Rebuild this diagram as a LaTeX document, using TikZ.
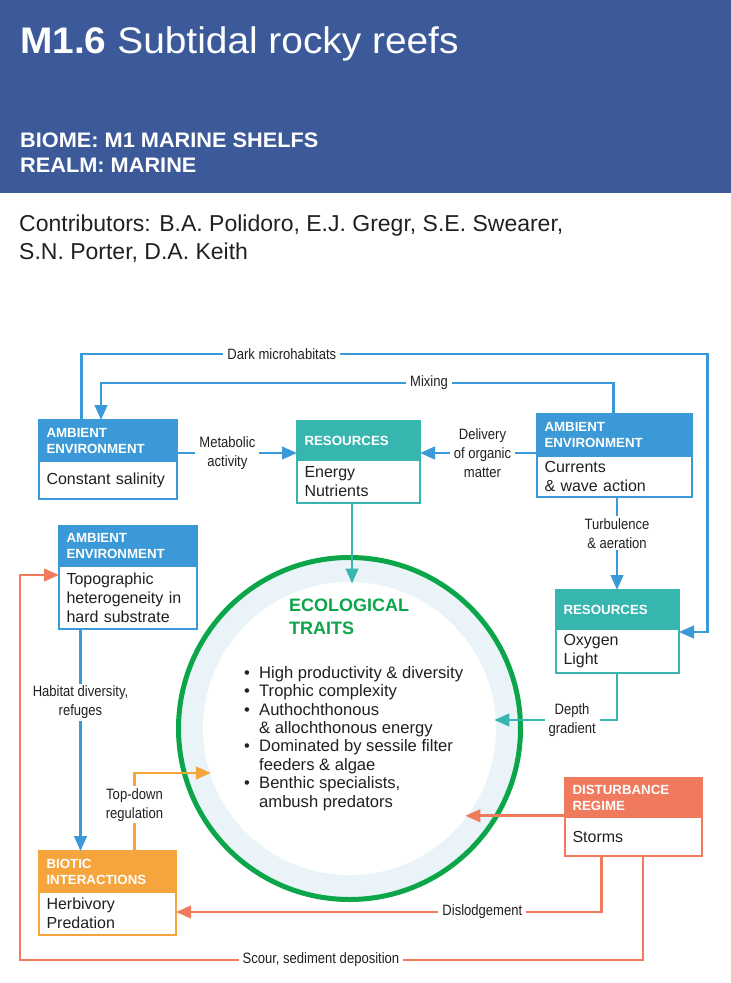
\documentclass[tikz,border=0pt]{standalone}
\usepackage{fontspec}
\setmainfont{Liberation Sans}
\newfontfamily\cond[FakeStretch=0.87]{Liberation Sans}
\newfontfamily\widef[FakeStretch=1.05]{Liberation Sans}
\newfontfamily\bwidef[FakeStretch=1.035]{Liberation Sans}
\usetikzlibrary{arrows.meta,calc}
\definecolor{hdrblue}{RGB}{60,90,153}
\definecolor{amb}{RGB}{58,153,214}
\definecolor{tealc}{RGB}{55,182,176}
\definecolor{salm}{RGB}{240,122,94}
\definecolor{orng}{RGB}{245,165,60}
\definecolor{grn}{RGB}{11,166,74}
\definecolor{ringc}{RGB}{234,244,248}
\definecolor{txt}{RGB}{35,31,32}
\tikzset{
  hdr/.style={fill=#1, draw=#1, line width=2pt, text=white, font=\bfseries\fontsize{13.3}{16}\selectfont,
    align=left, anchor=north west, inner xsep=7.5pt, inner ysep=0pt, outer sep=0pt},
  bdy/.style={fill=white, draw=#1, line width=2pt, text=txt, font=\fontsize{16}{19}\selectfont,
    align=left, anchor=north west, inner xsep=7.5pt, inner ysep=0pt, outer sep=0pt},
  arr/.style={line width=2.6pt, draw=#1, -{Triangle[length=15pt,width=12.5pt]}},
  lbl/.style={fill=white, text=txt, font=\cond\fontsize{15}{19}\selectfont, align=center,
    inner xsep=4pt, inner ysep=2pt},
}
\begin{document}
\begin{tikzpicture}[x=1pt,y=-1pt]
\useasboundingbox (0,0) rectangle (731,983);
% header band
\fill[hdrblue] (0,0) rectangle (731,193);
\node[anchor=base west, text=white, inner sep=0, font=\widef\fontsize{37}{40}\selectfont] (title) at (20,53)
  {\textbf{M1.6} Subtidal rocky reefs};
\node[anchor=base west, text=white, inner sep=0, font=\bwidef\bfseries\fontsize{21}{25}\selectfont] (biome) at (20,147)
  {BIOME: M1 MARINE SHELFS};
\node[anchor=base west, text=white, inner sep=0, font=\bwidef\bfseries\fontsize{21}{25}\selectfont] (realm) at (20,172)
  {REALM: MARINE};
\node[anchor=base west, text=txt, inner sep=0, font=\fontsize{23}{28}\selectfont] (contrib1) at (19,231)
  {Contributors: B.A. Polidoro, E.J. Gregr, S.E. Swearer,};
\node[anchor=base west, text=txt, inner sep=0, font=\fontsize{23}{28}\selectfont] (contrib2) at (19,259)
  {S.N. Porter, D.A. Keith};

% central circle
\fill[ringc] (349.5,728.5) circle[radius=171pt];
\fill[white] (349.5,728.5) circle[radius=146.5pt];
\node[circle, draw=grn, line width=5pt, minimum size=342pt, inner sep=0] (traits) at (349.5,728.5) {};
\node[circle, minimum size=290pt, inner sep=0, outer sep=0] (traitsin) at (349.5,728.5) {};
\node[anchor=north west, inner sep=0, text=grn, align=left, font=\bfseries\fontsize{18}{22.5}\selectfont] (ecoT)
  at (289,599) {ECOLOGICAL\\TRAITS};
\node[anchor=north west, inner sep=0, text=txt, align=left, font=\fontsize{16.6}{18.4}\selectfont] (bullets)
  at (244,666) {%
\makebox[15pt][l]{\textbullet}High productivity \& diversity\\
\makebox[15pt][l]{\textbullet}Trophic complexity\\
\makebox[15pt][l]{\textbullet}Authochthonous\\
\hspace*{15pt}\& allochthonous energy\\
\makebox[15pt][l]{\textbullet}Dominated by sessile filter\\
\hspace*{15pt}feeders \& algae\\
\makebox[15pt][l]{\textbullet}Benthic specialists,\\
\hspace*{15pt}ambush predators};

% boxes
\node[hdr=amb, text width=123pt, minimum height=41pt] (salinH) at (39,420) {AMBIENT\\ENVIRONMENT};
\node[bdy=amb, text width=123pt, minimum height=38pt] (salin) at (salinH.south west) {Constant salinity};

\node[hdr=tealc, text width=108pt, minimum height=39pt] (energyH) at (297,421) {RESOURCES};
\node[bdy=tealc, text width=108pt, minimum height=43pt] (energy) at (energyH.south west) {Energy\\Nutrients};

\node[hdr=amb, text width=140pt, minimum height=42pt] (curH) at (537,414) {AMBIENT\\ENVIRONMENT};
\node[bdy=amb, text width=140pt, minimum height=41pt] (cur) at (curH.south west) {Currents\\\& wave action};

\node[hdr=amb, text width=123pt, minimum height=40pt] (topoH) at (59,526) {AMBIENT\\ENVIRONMENT};
\node[bdy=amb, text width=123pt, minimum height=63pt] (topo) at (topoH.south west) {Topographic\\heterogeneity in\\hard substrate};

\node[hdr=tealc, text width=108pt, minimum height=39pt] (oxyH) at (556,590) {RESOURCES};
\node[bdy=tealc, text width=108pt, minimum height=44pt] (oxy) at (oxyH.south west) {Oxygen\\Light};

\node[hdr=salm, text width=122pt, minimum height=39pt] (stormsH) at (565,778) {DISTURBANCE\\REGIME};
\node[bdy=salm, text width=122pt, minimum height=39pt] (storms) at (stormsH.south west) {Storms};

\node[hdr=orng, text width=122pt, minimum height=41pt] (bioticH) at (39,851) {BIOTIC\\INTERACTIONS};
\node[bdy=orng, text width=122pt, minimum height=43pt] (biotic) at (bioticH.south west) {Herbivory\\Predation};

% routing coordinates
\coordinate (dmL) at (81.5,354);
\coordinate (dmR) at (707.5,354);
\coordinate (dmY) at (707.5,632);
\coordinate (mxR) at (613.5,383);
\coordinate (mxL) at (101,383);
\coordinate (mety) at (0,453);
\coordinate (tbx) at (617,0);
\coordinate (dgC) at (617,720);
\coordinate (dlC) at (601.5,912);
\coordinate (scR) at (643,960);
\coordinate (scL) at (20,960);
\coordinate (scT) at (20,575);
\coordinate (hdx) at (80.5,0);
\coordinate (tdC) at (134.5,773);

% connectors
\draw[arr=amb] (salinH.north -| dmL) -- (dmL) -- node[lbl,pos=0.32]{Dark microhabitats} (dmR) -- (dmY) -- (oxy.east |- dmY);
\draw[arr=amb] (curH.north -| mxR) -- (mxR) -- node[lbl,pos=0.36]{Mixing} (mxL) -- (salinH.north -| mxL);
\draw[arr=amb] (salinH.east |- mety) -- node[lbl,pos=0.42]{Metabolic\\activity} (energyH.west |- mety);
\draw[arr=amb] (curH.west |- mety) -- node[lbl,pos=0.466]{Delivery\\of organic\\matter} (energyH.east |- mety);
\draw[arr=tealc] (energy.south -| traitsin.89) -- (traitsin.89 |- traitsin.north);
\draw[arr=amb] (cur.south -| tbx) -- node[lbl,pos=0.39]{Turbulence\\\& aeration} (oxyH.north -| tbx);
\draw[arr=tealc] (oxy.south -| dgC) -- (dgC) -- node[lbl,pos=0.366]{Depth\\gradient} (dgC -| traitsin.3.36);
\draw[arr=salm] (stormsH.west |- traitsin.323.4) -- (traitsin.323.4);
\draw[arr=salm] (storms.south -| dlC) -- (dlC) -- node[lbl,pos=0.28]{Dislodgement} (biotic.east |- dlC);
\draw[arr=salm] (storms.south -| scR) -- (scR) -- node[lbl,pos=0.517]{Scour, sediment deposition} (scL) -- (scT) -- (topo.west |- scT);
\draw[arr=amb] (topo.south -| hdx) -- node[lbl,pos=0.33]{Habitat diversity,\\refuges} (bioticH.north -| hdx);
\draw[arr=orng] (bioticH.north -| tdC) -- node[lbl,pos=0.59]{Top-down\\regulation} (tdC) -- (tdC -| traitsin.197.87);
\end{tikzpicture}
\end{document}
